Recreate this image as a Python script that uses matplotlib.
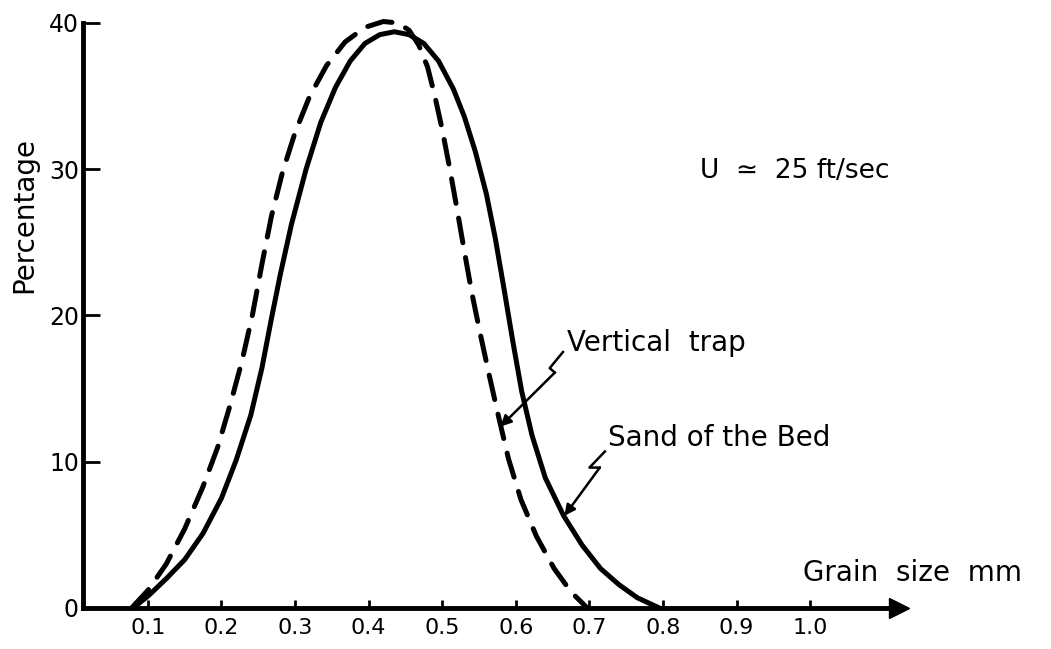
import matplotlib
matplotlib.use("Agg")
import matplotlib.pyplot as plt

# grain size distributions at U ~ 25 ft/sec
bed_x = [0.080, 0.100, 0.125, 0.150, 0.175, 0.200, 0.220, 0.240, 0.255, 0.268,
         0.280, 0.295, 0.315, 0.335, 0.355, 0.375, 0.395, 0.415, 0.435, 0.455,
         0.475, 0.495, 0.515, 0.530, 0.545, 0.560, 0.572, 0.584, 0.596, 0.608,
         0.622, 0.640, 0.665, 0.690, 0.715, 0.740, 0.765, 0.795]
bed_pct = [0.0, 0.8, 2.0, 3.3, 5.1, 7.5, 10.1, 13.2, 16.4, 19.8,
           22.8, 26.2, 30.0, 33.2, 35.6, 37.4, 38.6, 39.2, 39.4, 39.2,
           38.6, 37.4, 35.5, 33.6, 31.2, 28.3, 25.3, 21.8, 18.2, 14.8,
           11.8, 8.9, 6.3, 4.3, 2.7, 1.6, 0.7, 0.0]

trap_x = [0.078, 0.100, 0.125, 0.150, 0.175, 0.195, 0.212, 0.228, 0.242, 0.255,
          0.268, 0.283, 0.300, 0.320, 0.343, 0.368, 0.395, 0.420, 0.440, 0.455,
          0.468, 0.480, 0.490, 0.500, 0.510, 0.520, 0.530, 0.540, 0.551, 0.563,
          0.576, 0.590, 0.607, 0.628, 0.652, 0.675, 0.697]
trap_pct = [0.0, 1.2, 3.0, 5.4, 8.3, 11.0, 13.9, 16.9, 20.0, 23.5,
            26.8, 29.8, 32.5, 35.0, 37.1, 38.7, 39.7, 40.1, 40.0, 39.5,
            38.5, 37.0, 35.0, 32.7, 30.1, 27.3, 24.4, 21.6, 18.9, 16.1,
            13.2, 10.2, 7.4, 4.9, 2.7, 1.1, 0.0]

x_ticks = [0.1, 0.2, 0.3, 0.4, 0.5, 0.6, 0.7, 0.8, 0.9, 1.0]
x_tick_labels = ["0.1", "0.2", "0.3", "0.4", "0.5", "0.6", "0.7", "0.8", "0.9", "1.0"]
y_ticks = [0, 10, 20, 30, 40]

# zig-zag leaders from the labels, ending in an arrow on the curve
trap_leader = [(0.664, 17.5), (0.646, 16.4), (0.653, 16.1)]
trap_target = (0.579, 12.4)
bed_leader = [(0.721, 10.7), (0.700, 9.6), (0.714, 9.6)]
bed_target = (0.666, 6.3)

fig = plt.figure(figsize=(10.51, 6.49), dpi=100)
ax = fig.add_axes([0.079, 0.0632, 0.776, 0.9014])

ax.plot(bed_x, bed_pct, color="black", lw=3.6, solid_capstyle="round",
        solid_joinstyle="round", clip_on=False)
ax.plot(trap_x, trap_pct, color="black", lw=3.6, ls=(0, (5, 3)),
        dash_capstyle="round", clip_on=False)

for leader, target in [(trap_leader, trap_target), (bed_leader, bed_target)]:
    ax.plot([p[0] for p in leader], [p[1] for p in leader], color="black", lw=1.8)
    ax.annotate("", xy=target, xytext=leader[-1],
                arrowprops=dict(arrowstyle="-|>", color="black", lw=1.8,
                                mutation_scale=16, shrinkA=0, shrinkB=0))

ax.text(0.669, 18.1, "Vertical  trap", fontsize=20, va="center", ha="left")
ax.text(0.725, 11.6, "Sand of the Bed", fontsize=20, va="center", ha="left")
ax.text(0.85, 29.9, "U  \u2243  25 ft/sec", fontsize=19, va="center", ha="left")
ax.text(0.99, 2.4, "Grain  size  mm", fontsize=20, va="center", ha="left")

ax.set_xlim(0.012, 1.12)
ax.set_ylim(0, 40)
ax.set_xticks(x_ticks)
ax.set_xticklabels(x_tick_labels)
ax.set_yticks(y_ticks)
ax.tick_params(axis="y", direction="in", length=12, width=2, labelsize=17, pad=3)
ax.tick_params(axis="x", direction="in", length=6, width=2, labelsize=16, pad=7)

fig.text(24 / 1051, 1 - 215 / 649, "Percentage", fontsize=20, rotation=90,
         ha="center", va="center")

for side in ["top", "right"]:
    ax.spines[side].set_visible(False)
for side in ["left", "bottom"]:
    ax.spines[side].set_linewidth(3.5)

# arrow head at the end of the grain size axis
ax.plot(1.0, 0, marker=">", ms=14, color="black", clip_on=False,
        transform=ax.get_yaxis_transform())

fig.savefig("out.png", dpi=100)
